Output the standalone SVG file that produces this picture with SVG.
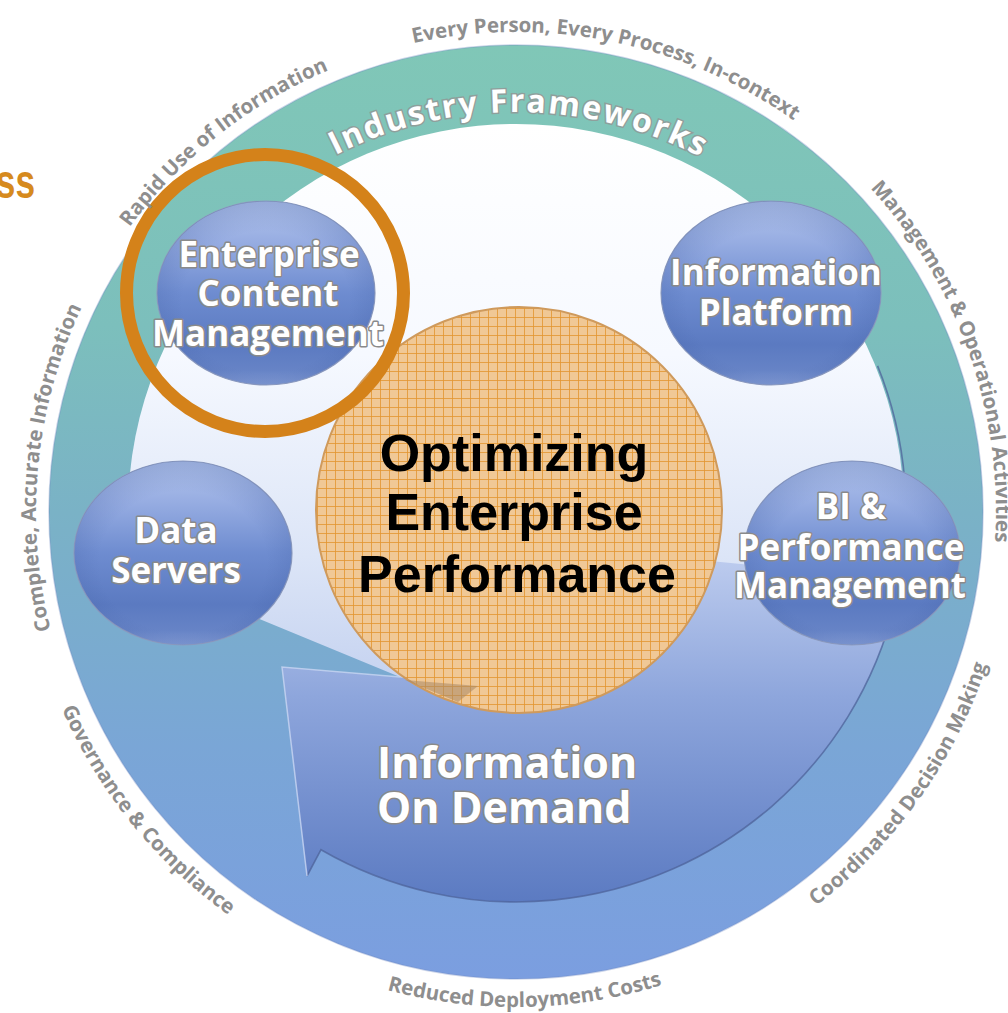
<svg xmlns="http://www.w3.org/2000/svg" width="1008" height="1013" viewBox="0 0 1008 1013">
<defs>
  <linearGradient id="ringGrad" gradientUnits="userSpaceOnUse" x1="0" y1="45" x2="0" y2="980">
    <stop offset="0" stop-color="#80c7b7"/>
    <stop offset="0.3" stop-color="#7cbfbc"/>
    <stop offset="0.5" stop-color="#7ab2c6"/>
    <stop offset="0.75" stop-color="#7aa6d6"/>
    <stop offset="1" stop-color="#7b9ee0"/>
  </linearGradient>
  <linearGradient id="lightGrad" gradientUnits="userSpaceOnUse" x1="0" y1="124" x2="0" y2="700">
    <stop offset="0" stop-color="#ffffff"/>
    <stop offset="0.4" stop-color="#f6f9ff"/>
    <stop offset="0.75" stop-color="#dce5f7"/>
    <stop offset="1" stop-color="#c2d0ef"/>
  </linearGradient>
  <linearGradient id="arrowGrad" gradientUnits="userSpaceOnUse" x1="0" y1="560" x2="0" y2="900">
    <stop offset="0" stop-color="#bccbee"/>
    <stop offset="0.4" stop-color="#8ea6dc"/>
    <stop offset="1" stop-color="#5c7bc2"/>
  </linearGradient>
  <linearGradient id="sphereGrad" x1="0" y1="0" x2="0" y2="1">
    <stop offset="0" stop-color="#b4c5ec"/>
    <stop offset="0.22" stop-color="#97ade2"/>
    <stop offset="0.5" stop-color="#6e8cd0"/>
    <stop offset="0.78" stop-color="#5b7ac1"/>
    <stop offset="0.92" stop-color="#6683c6"/>
    <stop offset="1" stop-color="#7f98d2"/>
  </linearGradient>
  <radialGradient id="sphereShade" cx="0.5" cy="0.55" r="0.55">
    <stop offset="0.7" stop-color="#3d5a9e" stop-opacity="0"/>
    <stop offset="1" stop-color="#3d5a9e" stop-opacity="0.25"/>
  </radialGradient>
  <pattern id="grid" width="9" height="9" patternUnits="userSpaceOnUse" x="2" y="2">
    <rect width="9" height="9" fill="#f0c896"/>
    <path d="M0,0.5H9M0.5,0V9" stroke="#e2952f" stroke-width="1" stroke-opacity="0.8"/>
  </pattern>
  <path id="cwOuter" d="M516,992 A480,480 0 1,1 516,32 A480,480 0 1,1 516,992"/>
  <path id="ccwOuter" d="M516,17 A495,495 0 1,0 516,1007 A495,495 0 1,0 516,17"/>
  <path id="cwIF" d="M516,912 A400,400 0 1,1 516,112 A400,400 0 1,1 516,912"/>
  <style>
    .sphere { fill: url(#sphereGrad); stroke: #8d9bbf; stroke-width: 1.2; }
    .shade { fill: url(#sphereShade); }
    .ntext { font-family: "Open Sans", "Noto Sans", sans-serif; font-weight: 700; font-size: 35px; fill: #ffffff; stroke: #8a8a8a; stroke-width: 3; paint-order: stroke; text-anchor: middle; stroke-linejoin: round; }
    .outer { font-family: "Open Sans", "Noto Sans", sans-serif; font-weight: 700; font-size: 20.5px; fill: #8e8e8e; }
    .ctext { font-family: "Liberation Sans", Arial, sans-serif; font-weight: 700; font-size: 52px; fill: #000000; text-anchor: middle; }
    .iod { font-family: "Open Sans", "Noto Sans", sans-serif; font-weight: 700; font-size: 43px; fill: #ffffff; stroke: #8a8a8a; stroke-width: 3; paint-order: stroke; stroke-linejoin: round; }
  </style>
</defs>

<g id="background">
  <rect width="1008" height="1013" fill="#ffffff"/>
  <circle cx="516" cy="512" r="467" fill="url(#ringGrad)"/>
  <circle cx="516" cy="512" r="467" fill="none" stroke="#6c86bf" stroke-width="1.5" stroke-opacity="0.35"/>
  <circle cx="516" cy="512" r="388" fill="url(#lightGrad)"/>
  <polygon points="70,560 150,560 240,611 400,677 420,760 300,860 110,700" fill="url(#ringGrad)"/>
</g>

<g id="connectors">
  <path id="iod-arrow" d="M700,560 L900.1,579.7 A390,390 0 0,1 321,849.7 L307,876 L282,667 L472,684 L520,690 Z" fill="url(#arrowGrad)"/>
  <path d="M877.6,365.9 A390,390 0 0,1 321,849.7 L307,876" fill="none" stroke="#4d6399" stroke-width="1.6" stroke-opacity="0.75"/>
  <path d="M307,876 L282,667 L400,677" fill="none" stroke="#c9d6f3" stroke-width="1.5" stroke-opacity="0.8"/>
</g>

<g id="node-center">
  <circle cx="519" cy="510" r="203" fill="url(#grid)" stroke="#cf9a5c" stroke-width="2"/>
  <polygon points="405,680 478,686 458,702" fill="#a98866" fill-opacity="0.55"/>
  <text class="ctext" x="514" y="471">Optimizing</text>
  <text class="ctext" x="514" y="530">Enterprise</text>
  <text class="ctext" x="517" y="592">Performance</text>
</g>

<g id="node-iod">
  <text class="iod" x="377" y="778">Information</text>
  <text class="iod" x="377" y="823">On Demand</text>
</g>

<g id="node-ecm">
  <ellipse class="sphere" cx="266" cy="293" rx="109" ry="92"/>
  <ellipse class="shade" cx="266" cy="293" rx="109" ry="92"/>
  <circle cx="265" cy="293" r="138.5" fill="none" stroke="#d4821a" stroke-width="13"/>
  <text class="ntext" x="269" y="267">Enterprise</text>
  <text class="ntext" x="268" y="306">Content</text>
  <text class="ntext" x="268" y="346">Management</text>
</g>

<g id="node-info-platform">
  <ellipse class="sphere" cx="771" cy="293" rx="110" ry="92"/>
  <ellipse class="shade" cx="771" cy="293" rx="110" ry="92"/>
  <text class="ntext" x="776" y="285">Information</text>
  <text class="ntext" x="776" y="325">Platform</text>
</g>

<g id="node-data-servers">
  <ellipse class="sphere" cx="183" cy="553" rx="109" ry="92"/>
  <ellipse class="shade" cx="183" cy="553" rx="109" ry="92"/>
  <text class="ntext" x="176" y="543">Data</text>
  <text class="ntext" x="176" y="583">Servers</text>
</g>

<g id="node-bi">
  <ellipse class="sphere" cx="852" cy="553" rx="108" ry="92"/>
  <ellipse class="shade" cx="852" cy="553" rx="108" ry="92"/>
  <text class="ntext" x="851" y="519">BI &amp;</text>
  <text class="ntext" x="851" y="560">Performance</text>
  <text class="ntext" x="850" y="598">Management</text>
</g>

<g id="ring-labels">
  <text font-family="'Open Sans', 'Noto Sans', sans-serif" font-weight="700" font-size="32" fill="#ffffff" stroke="#8f9f9c" stroke-width="3" paint-order="stroke" letter-spacing="2" text-anchor="middle"><textPath href="#cwIF" startOffset="1259">Industry Frameworks</textPath></text>
  <text class="outer" text-anchor="middle"><textPath href="#cwOuter" startOffset="1604">Every Person, Every Process, In-context</textPath></text>
  <text class="outer" text-anchor="middle"><textPath href="#cwOuter" startOffset="1187">Rapid Use of Information</textPath></text>
  <text class="outer" text-anchor="middle"><textPath href="#cwOuter" startOffset="800">Complete, Accurate Information</textPath></text>
  <text class="outer" text-anchor="middle"><textPath href="#cwOuter" startOffset="2099">Management &amp; Operational Activities</textPath></text>
  <text class="outer" text-anchor="middle"><textPath href="#ccwOuter" startOffset="1114">Governance &amp; Compliance</textPath></text>
  <text class="outer" text-anchor="middle"><textPath href="#ccwOuter" startOffset="1564">Reduced Deployment Costs</textPath></text>
  <text class="outer" text-anchor="middle"><textPath href="#ccwOuter" startOffset="2027">Coordinated Decision Making</textPath></text>
</g>

<g id="title-fragment">
  <text transform="translate(35,198) scale(0.72,1)" font-family="'Liberation Sans', Arial, sans-serif" font-weight="700" font-size="49" fill="#d68a1e" text-anchor="end">ss</text>
</g>
</svg>
